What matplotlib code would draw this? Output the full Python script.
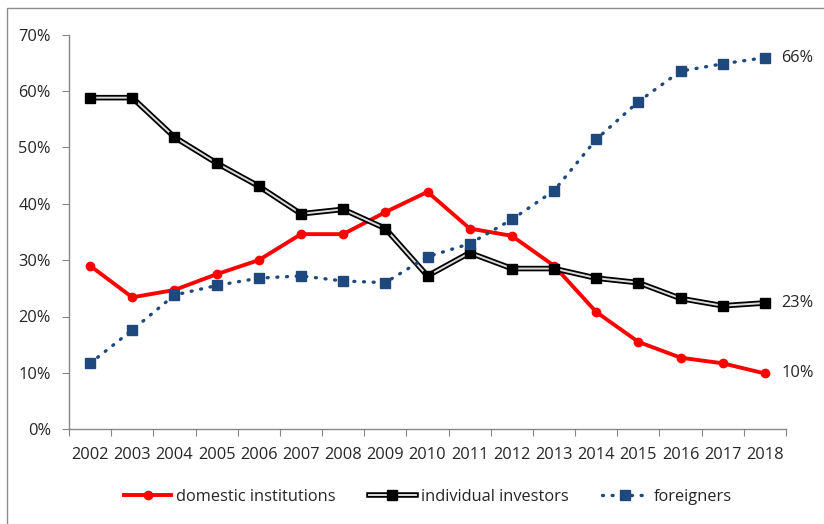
import matplotlib
matplotlib.use("Agg")
import matplotlib.pyplot as plt
from matplotlib.lines import Line2D
from matplotlib.legend_handler import HandlerTuple
from matplotlib.ticker import PercentFormatter
from matplotlib.patches import Rectangle

years = [str(y) for y in range(2002, 2019)]
domestic = [29.0, 23.4, 24.7, 27.5, 30.0, 34.6, 34.6, 38.5, 42.1, 35.6, 34.3, 29.0, 20.8, 15.5, 12.7, 11.7, 9.9]
individual = [58.8, 58.8, 51.8, 47.2, 43.1, 38.2, 39.0, 35.6, 27.2, 31.3, 28.5, 28.5, 26.8, 26.0, 23.2, 21.9, 22.4]
foreign = [11.7, 17.6, 23.8, 25.5, 26.8, 27.2, 26.3, 26.0, 30.6, 32.9, 37.2, 42.3, 51.4, 58.1, 63.5, 64.8, 65.9]
end_labels = ["10%", "23%", "66%"]

plt.rcParams['font.family'] = ['Open Sans', 'DejaVu Sans']

W, H = 824, 524
fig = plt.figure(figsize=(W / 100, H / 100), dpi=100)
ax = fig.add_axes([69 / W, 1 - 429.3 / H, (786 - 69) / W, (429.3 - 34.5) / H])

x = list(range(len(years)))
d = [v / 100 for v in domestic]
ind = [v / 100 for v in individual]
f = [v / 100 for v in foreign]

red = '#FF0000'
blue = '#1F497D'
txt = '#262626'
fs = 11.8

ax.plot(x, d, color=red, lw=2.8, marker='o', ms=6, zorder=3, solid_capstyle='round')
ax.plot(x, ind, color='black', lw=4.0, zorder=4)
ax.plot(x, ind, color='#dcdcdc', lw=1.4, zorder=4.1)
ax.plot(x, ind, color='black', lw=0, marker='s', ms=7, zorder=4.2)
dots = (0, (0.3, 2.6))
ax.plot(x, f, color=blue, lw=2.4, ls=dots, dash_capstyle='round',
        marker='s', ms=7.5, zorder=5)

last = len(years) - 1
for series, lab in zip([d, ind, f], end_labels):
    ax.annotate(lab, (last, series[-1]), xytext=(12, 0), textcoords='offset points',
                va='center', ha='left', fontsize=fs, color=txt)

ax.set_xlim(-0.5, len(years) - 0.5)
ax.set_ylim(0, 0.7)
ax.set_yticks([i / 10 for i in range(8)])
ax.yaxis.set_major_formatter(PercentFormatter(1, decimals=0))
ax.set_xticks([i - 0.5 for i in range(len(years) + 1)])
ax.set_xticklabels([])
ax.set_xticks(x, minor=True)
ax.set_xticklabels(years, minor=True)
ax.tick_params(axis='x', which='minor', length=0, pad=13, labelsize=fs, labelcolor=txt)
ax.tick_params(axis='x', which='major', length=5, color='#868686')
ax.tick_params(axis='y', length=5, color='#868686', labelsize=fs, labelcolor=txt, pad=8)
for s in ['top', 'right']:
    ax.spines[s].set_visible(False)
for s in ['left', 'bottom']:
    ax.spines[s].set_color('#868686')
    ax.spines[s].set_linewidth(1)

h1 = Line2D([], [], color=red, lw=2.8, marker='o', ms=6)
h2 = (Line2D([], [], color='black', lw=4.0), Line2D([], [], color='#dcdcdc', lw=1.4),
      Line2D([], [], color='black', lw=0, marker='s', ms=7))
h3 = Line2D([], [], color=blue, lw=2.4, ls=dots, dash_capstyle='round', marker='s', ms=7.5)
fig.legend([h1, h2, h3], ['domestic institutions', 'individual investors', 'foreigners'],
           handler_map={tuple: HandlerTuple(ndivide=1, pad=0)},
           loc='center', bbox_to_anchor=(428 / W, 1 - 497 / H), ncol=3, frameon=False,
           fontsize=fs, handlelength=2.9, columnspacing=2.0, handletextpad=0.3,
           labelcolor=txt)

fig.patches.append(Rectangle((7 / W, -0.1), 1.2, 1.1 - 8 / H, transform=fig.transFigure,
                             fill=False, edgecolor='#8c8c8c', lw=1))

fig.savefig('out.png', dpi=100)
